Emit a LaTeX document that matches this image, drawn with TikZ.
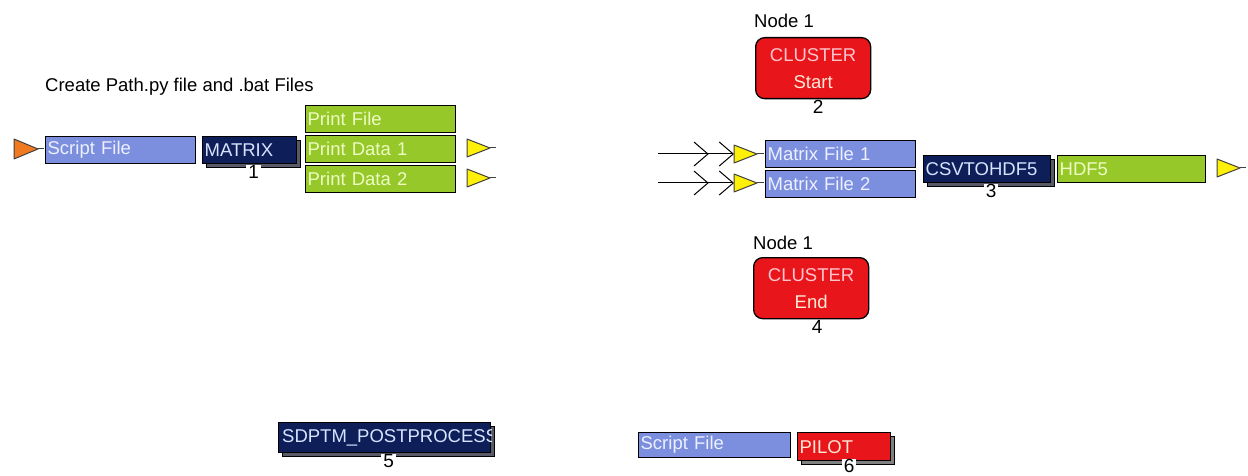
\documentclass[tikz,border=0pt]{standalone}
\usepackage{fontspec}
\setmainfont{Liberation Sans}
\usetikzlibrary{arrows.meta,shadows}

\definecolor{lav}{RGB}{124,142,222}
\definecolor{lavtext}{RGB}{236,240,255}
\definecolor{navy}{RGB}{14,30,88}
\definecolor{navytext}{RGB}{214,228,255}
\definecolor{grn}{RGB}{150,200,42}
\definecolor{grntext}{RGB}{238,252,196}
\definecolor{cred}{RGB}{232,22,26}
\definecolor{cpink}{RGB}{255,196,206}
\definecolor{cpale}{RGB}{255,232,214}
\definecolor{shd}{RGB}{88,90,104}
\definecolor{pshd}{RGB}{128,128,128}
\definecolor{portyellow}{RGB}{255,240,10}
\definecolor{portorange}{RGB}{240,122,34}

\newcommand{\lbl}{\fontsize{18.5}{21}\selectfont}
\newcommand{\numfont}{\fontsize{19}{20}\selectfont}

\tikzset{
  base/.style={draw=black, line width=1.3pt, anchor=north west, inner xsep=2pt,
    inner ysep=0pt, align=left, font=\lbl, minimum height=27pt},
  filebox/.style={base, fill=lav, text=lavtext},
  outbox/.style={base, fill=grn, text=grntext},
  procbox/.style={base, fill=navy, text=navytext,
    general shadow={shadow xshift=4pt, shadow yshift=-4pt, fill=shd, draw=black, line width=1pt}},
  pilotbox/.style={base, fill=cred, text=cpale,
    general shadow={shadow xshift=4pt, shadow yshift=-4pt, fill=pshd, draw=black, line width=1pt}},
  cluster/.style={draw=black, line width=1.3pt, fill=cred, rounded corners=9pt,
    minimum width=115pt, minimum height=61pt, anchor=north west, align=center,
    inner sep=0pt, font=\fontsize{18.5}{27}\selectfont},
  num/.style={fill=white, inner xsep=2pt, inner ysep=0.5pt, anchor=north, font=\numfont},
  caption/.style={font=\lbl, text=black, inner sep=0pt},
  port/.style={draw=black!75, line width=1pt, fill=portyellow, line join=round},
  srcport/.style={draw=black!75, line width=1pt, fill=portorange, line join=round},
  feed/.style={line width=1pt,
    -{Straight Barb[length=14pt,width=24pt,sep=10pt] Straight Barb[length=14pt,width=24pt]}},
}

\begin{document}
\begin{tikzpicture}[x=1pt,y=-1pt]
\useasboundingbox (0,0) rectangle (1248,476);

% ---------- matrix step ----------
\node[caption, anchor=base west] (title) at (45,92) {Create Path.py file and .bat Files};

\coordinate (src) at (14,149);
\draw[srcport] (src) ++(0,-10) -- ++(24,10) -- ++(-24,10) -- cycle;
\draw[line width=1pt, black!75] ([xshift=24pt]src) -- ++(6,0);

\node[filebox, minimum width=150pt, text width=146pt] (sf1) at (45,136) {Script File};
\node[procbox, minimum width=94pt, text width=90pt] (m1) at (202,136) {MATRIX};
\node[num] (n1) at ([xshift=4pt,yshift=-0.6pt]m1.south) {1};

\node[outbox, minimum width=150pt, text width=146pt] (pf) at (305,105) {Print File};
\node[outbox, minimum width=150pt, text width=146pt] (pd1) at (305,135) {Print Data 1};
\node[outbox, minimum width=150pt, text width=146pt] (pd2) at (305,165) {Print Data 2};

\coordinate (o1) at (467,148);
\coordinate (o2) at (467,178);
\foreach \p in {o1,o2}{
  \draw[port] (\p) ++(0,-9) -- ++(23,9) -- ++(-23,9) -- cycle;
  \draw[line width=1pt, black!75] ([xshift=23pt]\p) -- ++(6,0);
}

% ---------- cluster start ----------
\node[caption] (lbl2) at (784,21) {Node 1};
\node[cluster] (c2) at (755,37) {\textcolor{cpink}{CLUSTER}\\\textcolor{cpale}{Start}};
\node[num] (n2) at ([xshift=5pt,yshift=-0.6pt]c2.south) {2};

% ---------- conversion step ----------
\coordinate (in1) at (658,154);
\coordinate (in2) at (658,183);
\coordinate (i1) at (734,154);
\coordinate (i2) at (734,183);
\draw[feed] (in1) -- (i1);
\draw[feed] (in2) -- (i2);
\foreach \p in {i1,i2}{
  \draw[port] (\p) ++(0,-9) -- ++(23,9) -- ++(-23,9) -- cycle;
  \draw[line width=1pt, black!75] ([xshift=23pt]\p) -- ++(7,0);
}

\node[filebox, minimum width=150pt, text width=146pt] (mf1) at (765,140) {Matrix File 1};
\node[filebox, minimum width=150pt, text width=146pt] (mf2) at (765,170) {Matrix File 2};
\node[procbox, minimum width=127pt, text width=123pt] (m3) at (923,155) {CSVTOHDF5};
\node[num] (n3) at ([xshift=4pt,yshift=-0.6pt]m3.south) {3};
\node[outbox, minimum width=148pt, text width=144pt] (h5) at (1057,155) {HDF5};

\coordinate (o3) at (1217,168);
\draw[port] (o3) ++(0,-9) -- ++(23,9) -- ++(-23,9) -- cycle;
\draw[line width=1pt, black!75] ([xshift=23pt]o3) -- ++(6,0);

% ---------- cluster end ----------
\node[caption] (lbl4) at (783,243) {Node 1};
\node[cluster] (c4) at (753,257) {\textcolor{cpink}{CLUSTER}\\\textcolor{cpale}{End}};
\node[num] (n4) at ([xshift=6pt,yshift=-0.6pt]c4.south) {4};

% ---------- post-processing ----------
\node[procbox, minimum width=212pt, minimum height=30pt, text width=208pt] (m5) at (278,422) {};
\begin{scope}
  \clip (m5.north west) rectangle (m5.south east);
  \node[font=\lbl, text=navytext, anchor=west, inner sep=0pt] (t5) at ([xshift=4pt]m5.west) {SDPTM\_POSTPROCESS};
\end{scope}
\node[num] (n5) at ([xshift=4pt,yshift=-0.6pt]m5.south) {5};

% ---------- pilot ----------
\node[filebox, minimum width=152pt, minimum height=25pt, text width=148pt] (sf2) at (638,432) {Script File};
\node[pilotbox, minimum width=93pt, minimum height=28pt, text width=89pt] (m6) at (797,432) {PILOT};
\node[num, anchor=south] (n6) at ([xshift=5pt]m6.south |- 0,473.5) {6};

\end{tikzpicture}
\end{document}
